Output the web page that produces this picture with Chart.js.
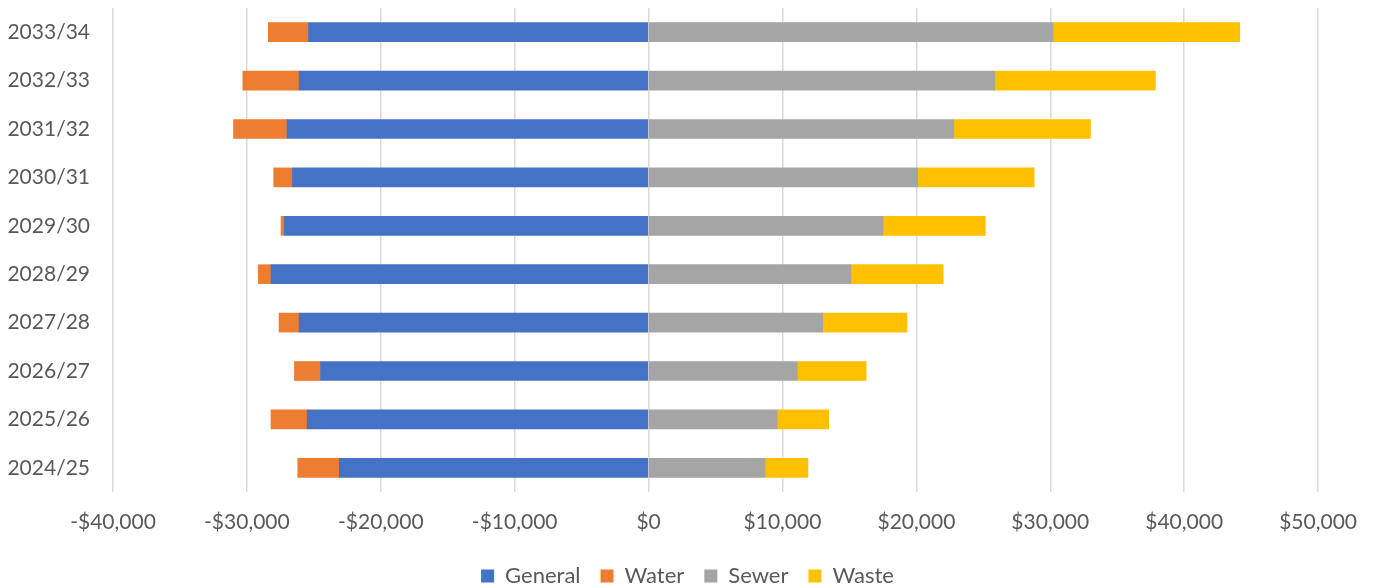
<!DOCTYPE html>
<html>
<head>
<meta charset="utf-8">
<script src="https://cdn.jsdelivr.net/npm/chart.js@4"></script>
<style>
  html, body { margin: 0; padding: 0; background: #fff; }
  #wrap { width: 1375px; height: 588px; }
</style>
</head>
<body>
<div id="wrap"><canvas id="chart"></canvas></div>
<script>
const years = ['2033/34', '2032/33', '2031/32', '2030/31', '2029/30', '2028/29', '2027/28', '2026/27', '2025/26', '2024/25'];
const general = [-25400, -26100, -27000, -26600, -27200, -28200, -26100, -24500, -25500, -23100];
const water = [-3000, -4200, -4000, -1400, -250, -950, -1500, -1950, -2700, -3100];
const sewer = [30200, 25850, 22800, 20100, 17500, 15100, 13000, 11100, 9600, 8700];
const waste = [13950, 12000, 10200, 8700, 7650, 6900, 6300, 5150, 3850, 3200];
const xTicks = [-40000, -30000, -20000, -10000, 0, 10000, 20000, 30000, 40000, 50000];

const textColor = '#595959';
const gridColor = '#d9d9d9';
const fontFamily = 'Lato, "Open Sans", sans-serif';

function money(v) {
    return (v < 0 ? '-' : '') + '$' + Math.abs(v).toLocaleString('en-US');
}

new Chart(document.getElementById('chart'), {
    type: 'bar',
    data: {
        labels: years,
        datasets: [
            { label: 'General', data: general, backgroundColor: '#4472C4' },
            { label: 'Water', data: water, backgroundColor: '#ED7D31' },
            { label: 'Sewer', data: sewer, backgroundColor: '#A5A5A5' },
            { label: 'Waste', data: waste, backgroundColor: '#FFC000' }
        ]
    },
    options: {
        indexAxis: 'y',
        responsive: true,
        maintainAspectRatio: false,
        animation: false,
        layout: { padding: { left: 0, right: 0, top: 8, bottom: -9 } },
        datasets: {
            bar: { barThickness: 19, borderWidth: 0 }
        },
        plugins: {
            tooltip: { enabled: false },
            legend: {
                position: 'bottom',
                labels: {
                    color: textColor,
                    font: { family: fontFamily, size: 22 },
                    boxWidth: 13,
                    boxHeight: 13,
                    padding: 20
                }
            }
        },
        scales: {
            x: {
                stacked: true,
                min: -40000,
                max: 50000,
                afterBuildTicks: function(scale) {
                    scale.ticks = xTicks.map(v => ({ value: v }));
                },
                afterFit: function(scale) {
                    scale.height = 53;
                },
                grid: { color: gridColor, lineWidth: 1.5, drawTicks: false },
                border: { display: false },
                ticks: {
                    color: textColor,
                    font: { family: fontFamily, size: 21 },
                    padding: 18,
                    maxRotation: 0,
                    callback: function(value) { return money(value); }
                }
            },
            y: {
                stacked: true,
                afterFit: function(scale) {
                    scale.width = 113;
                    scale.paddingTop = 0;
                    scale.paddingBottom = 0;
                },
                grid: { display: false, drawTicks: false },
                border: { display: false },
                ticks: {
                    color: textColor,
                    font: { family: fontFamily, size: 21 },
                    padding: 23
                }
            }
        }
    }
});
</script>
</body>
</html>
